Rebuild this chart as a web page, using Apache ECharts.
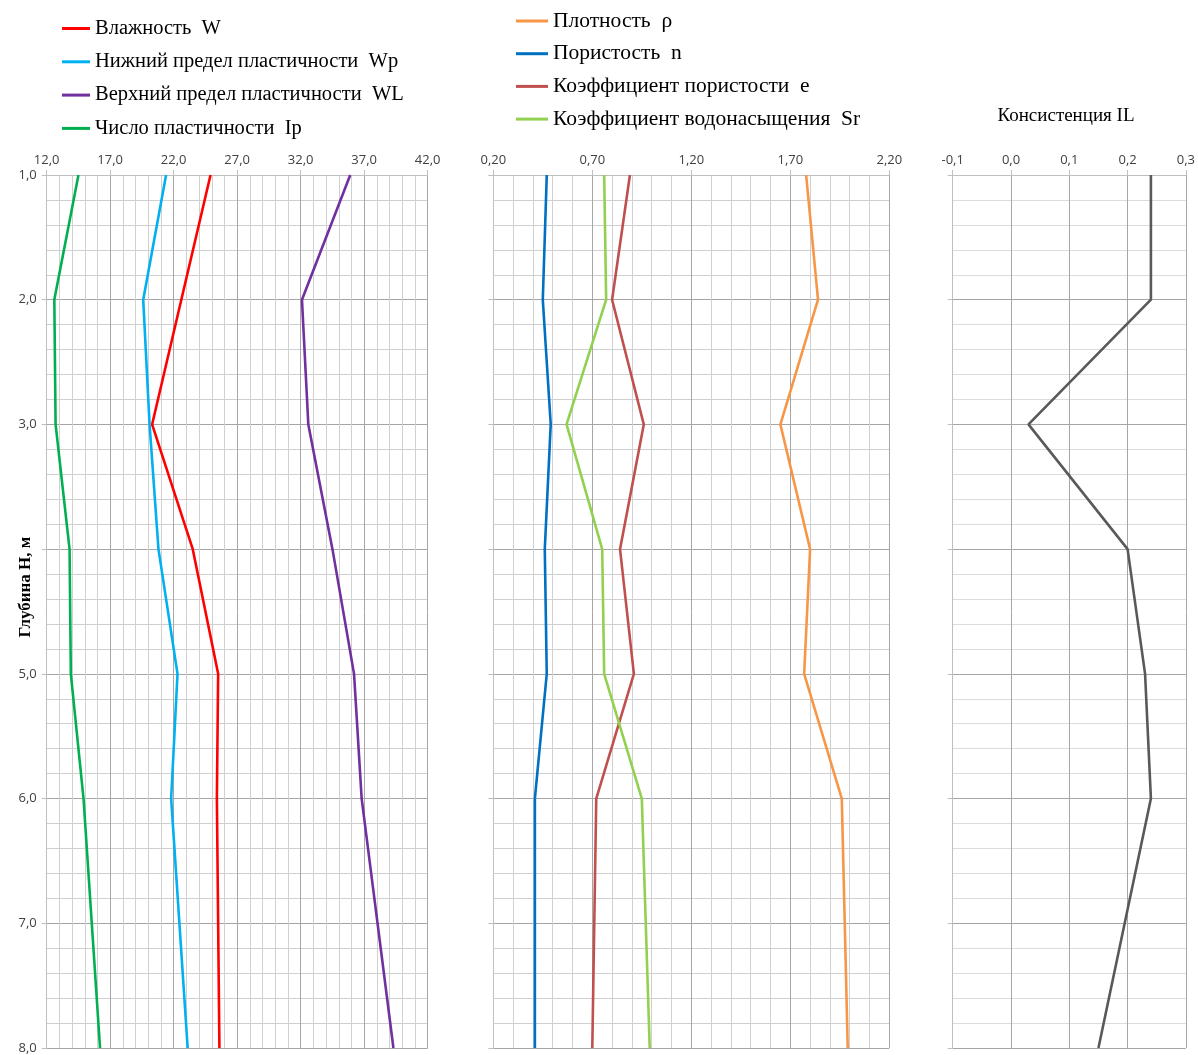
<!DOCTYPE html>
<html>
<head>
<meta charset="utf-8">
<script src="https://cdn.jsdelivr.net/npm/echarts@6/dist/echarts.min.js"></script>
<style>
  html, body { margin: 0; padding: 0; background: #ffffff; }
  #chart { width: 1198px; height: 1055px; }
</style>
</head>
<body>
<div id="chart"></div>
<script>
// Depths of the sampling points, m
const depth = [1, 2, 3, 4, 5, 6, 8];

// Plasticity characteristics, %
const W  = [24.9, 22.6, 20.3, 23.5, 25.5, 25.4, 25.6];
const Wp = [21.4, 19.6, 20.1, 20.8, 22.3, 21.8, 23.1];
const WL = [35.9, 32.1, 32.6, 34.5, 36.2, 36.8, 39.3];
const Ip = [14.5, 12.6, 12.7, 13.8, 13.9, 14.9, 16.2];

// Physical properties
const rho = [1.78, 1.84, 1.65, 1.80, 1.77, 1.96, 1.99];
const n   = [0.47, 0.45, 0.49, 0.46, 0.47, 0.41, 0.41];
const e   = [0.89, 0.80, 0.96, 0.84, 0.91, 0.72, 0.70];
const Sr  = [0.76, 0.77, 0.57, 0.75, 0.76, 0.95, 0.99];

// Consistency index
const IL = [0.24, 0.24, 0.03, 0.20, 0.23, 0.24, 0.15];

const names1 = ['Влажность  W', 'Нижний предел пластичности  Wp', 'Верхний предел пластичности  WL', 'Число пластичности  Ip'];
const names2 = ['Плотность  ρ', 'Пористость  n', 'Коэффициент пористости  e', 'Коэффициент водонасыщения  Sr'];
const depthLabel = 'Глубина Н, м';
const ilTitle = 'Консистенция IL';

const colors1 = ['#FF0000', '#00B0F0', '#7030A0', '#00B050'];
const colors2 = ['#F79646', '#0070C0', '#C0504D', '#92D050'];

const chart = echarts.init(document.getElementById('chart'), null, { renderer: 'canvas' });

const labelFont = { color: '#404040', fontSize: 13, fontFamily: 'Open Sans, Liberation Sans, sans-serif' };
const fmt = d => v => v.toFixed(d).replace('.', ',');

function xAxisCfg(gridIndex, min, max, interval, digits, minor) {
  return {
    type: 'value', gridIndex, position: 'top', min, max, interval,
    axisLine: { show: true, lineStyle: { color: '#BFBFBF', width: 1 } },
    axisTick: { show: true, inside: false, length: 5, lineStyle: { color: '#BFBFBF' } },
    axisLabel: Object.assign({ formatter: fmt(digits), margin: 8 }, labelFont),
    splitLine: { show: true, lineStyle: { color: '#A6A6A6', width: 1 } },
    minorTick: { show: minor > 0, splitNumber: minor || 5, length: 0 },
    minorSplitLine: { show: minor > 0, lineStyle: { color: '#D0D0D0', width: 1 } }
  };
}

function yAxisCfg(gridIndex, showLabels, hColor) {
  return {
    type: 'value', gridIndex, inverse: true, min: 1, max: 8, interval: 1,
    axisLine: { show: true, onZero: false, lineStyle: { color: '#BFBFBF', width: 1 } },
    axisTick: { show: true, length: 5, lineStyle: { color: '#BFBFBF' } },
    axisLabel: Object.assign({ show: showLabels, formatter: fmt(1), margin: 10 }, labelFont),
    splitLine: { show: true, lineStyle: { color: '#A6A6A6', width: 1 } },
    minorTick: { show: true, splitNumber: 5, length: 0 },
    minorSplitLine: { show: true, lineStyle: { color: hColor, width: 1 } }
  };
}

function lineSeries(name, vals, color, idx) {
  return {
    name, type: 'line', xAxisIndex: idx, yAxisIndex: idx,
    data: depth.map((d, i) => [vals[i], d]),
    showSymbol: false, symbol: 'none',
    lineStyle: { color, width: 2.6 },
    itemStyle: { color },
    silent: true, animation: false
  };
}

const serif = 'Liberation Serif, DejaVu Serif, serif';

const option = {
  backgroundColor: '#ffffff',
  animation: false,
  grid: [
    { left: 46.7, top: 175, width: 381, height: 873 },
    { left: 493.3, top: 175, width: 396, height: 873 },
    { left: 952.7, top: 175, width: 234, height: 873 }
  ],
  xAxis: [
    xAxisCfg(0, 12, 42, 5, 1, 5),
    xAxisCfg(1, 0.2, 2.2, 0.5, 2, 5),
    xAxisCfg(2, -0.1, 0.3, 0.1, 1, 0)
  ],
  yAxis: [
    yAxisCfg(0, true, '#D0D0D0'),
    yAxisCfg(1, false, '#D0D0D0'),
    yAxisCfg(2, false, '#DCDCDC')
  ],
  legend: [
    {
      data: names1, orient: 'vertical', left: 57, top: 13, itemGap: 12.3,
      itemWidth: 28, itemHeight: 3, icon: 'rect', selectedMode: false,
      textStyle: { fontFamily: serif, fontSize: 20.5, color: '#000000', lineHeight: 20 }
    },
    {
      data: names2, orient: 'vertical', left: 511, top: 5, itemGap: 10.7,
      itemWidth: 32, itemHeight: 3, icon: 'rect', selectedMode: false,
      textStyle: { fontFamily: serif, fontSize: 21.5, color: '#000000', lineHeight: 20 }
    }
  ],
  graphic: [
    {
      type: 'text', x: 26, y: 587, rotation: Math.PI / 2, z: 100,
      style: {
        text: depthLabel, fill: '#000000', align: 'center', verticalAlign: 'middle',
        font: 'bold 17px "Liberation Serif", serif',
        backgroundColor: '#ffffff', padding: [4, 2, 4, 2]
      }
    },
    {
      type: 'text', x: 1066, y: 116,
      style: {
        text: ilTitle, fill: '#000000', align: 'center', verticalAlign: 'middle',
        font: '19px "Liberation Serif", serif'
      }
    }
  ],
  series: [
    lineSeries(names1[0], W, colors1[0], 0),
    lineSeries(names1[1], Wp, colors1[1], 0),
    lineSeries(names1[2], WL, colors1[2], 0),
    lineSeries(names1[3], Ip, colors1[3], 0),
    lineSeries(names2[0], rho, colors2[0], 1),
    lineSeries(names2[1], n, colors2[1], 1),
    lineSeries(names2[2], e, colors2[2], 1),
    lineSeries(names2[3], Sr, colors2[3], 1),
    lineSeries('IL', IL, '#595959', 2)
  ]
};

chart.setOption(option);
</script>
</body>
</html>
